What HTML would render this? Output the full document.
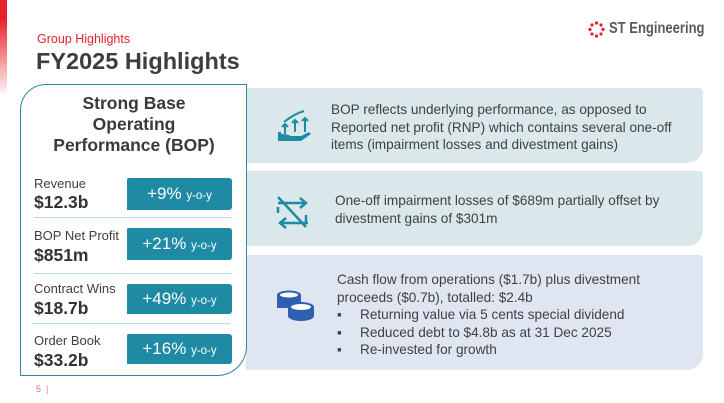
<!DOCTYPE html>
<html><head><meta charset="utf-8"><style>
*{margin:0;padding:0;box-sizing:border-box}
body{width:724px;height:403px;background:#fff;position:relative;overflow:hidden;font-family:"Liberation Sans",Arial,sans-serif;color:#404040}
.abs{position:absolute}
.panel{position:absolute;left:246px;width:457px;border-bottom-right-radius:16px;border-top-right-radius:4px}
.ptext{position:absolute;font-size:13.6px;line-height:17.5px;color:#404040}
.lbl{position:absolute;left:34px;font-size:13px;color:#404040}
.val{position:absolute;left:34px;font-size:17.5px;font-weight:bold;color:#333}
.badge{position:absolute;left:127px;width:105px;background:#1f8aa3;color:#fff;text-align:center;font-size:17px;border-radius:2px 3px 3px 0}
.badge small{font-size:11.5px}
.sep{position:absolute;left:34px;width:198px;height:1px;background:#b9dbe2}
</style></head><body>
<div class="abs" style="left:0;top:0;width:7px;height:93px;background:linear-gradient(#e8202a,#e8202a 20%,rgba(232,32,42,0.05))"></div>
<div class="abs" style="left:37px;top:32px;font-size:12.5px;color:#e8202a">Group Highlights</div>
<div class="abs" style="left:36px;top:48px;font-size:23.5px;font-weight:bold;color:#3d3d3d">FY2025 Highlights</div>
<div class="abs" style="left:588px;top:20px;display:flex;align-items:center">
<svg width="17" height="17" viewBox="0 0 17 17"><g fill="#e8202a"><circle cx="8.5" cy="2" r="1.6"/><circle cx="13" cy="4" r="1.6"/><circle cx="15" cy="8.5" r="1.6"/><circle cx="13" cy="13" r="1.6"/><circle cx="8.5" cy="15" r="1.6"/><circle cx="4" cy="13" r="1.6"/><circle cx="2" cy="8.5" r="1.6"/><circle cx="4" cy="4" r="1.6"/></g></svg>
<span style="margin-left:4px;font-size:15.5px;font-weight:bold;color:#5a5a5a;display:inline-block;transform:scaleX(0.84);transform-origin:left center">ST Engineering</span></div>

<div class="panel" style="top:88px;height:75px;background:#dae8ec"></div>
<div class="panel" style="top:171px;height:75px;background:#dae8ec"></div>
<div class="panel" style="top:255px;height:115px;background:#dfe6f2"></div>

<svg class="abs" style="left:276px;top:110px" width="36" height="32" viewBox="0 0 36 32"><g fill="none" stroke="#1f8aa3" stroke-width="2"><path d="M8 12 Q18 4 28 1"/><path d="M9 24V14M6 17l3-3 3 3M19 22V10M16 13l3-3 3 3M29 22V8M26 11l3-3 3 3"/></g><path d="M2 22h3v9H2zM5 24q6 0 10 2h10l8-4 2 2-10 7H5z" fill="#1f8aa3"/></svg>
<svg class="abs" style="left:276px;top:195px" width="34" height="36" viewBox="0 0 34 36"><g fill="none" stroke="#1f8aa3" stroke-width="2.5"><path d="M2 2L30 32M2 8h28M24 3l6 5-6 5M32 28H4M10 23l-6 5 6 5M2 12v6M30 20v8"/></g></svg>
<svg class="abs" style="left:276px;top:290px" width="40" height="34" viewBox="0 0 40 34"><g fill="#2e5fb0"><ellipse cx="13" cy="5" rx="12" ry="4.5"/><rect x="1" y="5" width="24" height="8"/><ellipse cx="13" cy="13" rx="12" ry="4.5"/><rect x="1" y="13" width="24" height="5"/><ellipse cx="25" cy="17" rx="13" ry="5"/><rect x="12" y="17" width="26" height="9"/><ellipse cx="25" cy="26" rx="13" ry="5"/></g><g fill="#fff"><ellipse cx="13" cy="5" rx="9" ry="2.5"/><ellipse cx="25" cy="17" rx="10" ry="3"/></g></svg>

<div class="ptext" style="left:331px;top:101px">BOP reflects underlying performance, as opposed to<br>Reported net profit (RNP) which contains several one-off<br>items (impairment losses and divestment gains)</div>
<div class="ptext" style="left:335px;top:192px">One-off impairment losses of $689m partially offset by<br>divestment gains of $301m</div>
<div class="ptext" style="left:337px;top:271px">Cash flow from operations ($1.7b) plus divestment<br>proceeds ($0.7b), totalled: $2.4b
<div><span style="display:inline-block;width:23px">▪</span>Returning value via 5 cents special dividend</div>
<div><span style="display:inline-block;width:23px">▪</span>Reduced debt to $4.8b as at 31 Dec 2025</div>
<div><span style="display:inline-block;width:23px">▪</span>Re-invested for growth</div></div>

<div class="abs" style="left:20px;top:84px;width:227px;height:292px;border:1.5px solid #2a8a9e;border-radius:26px 0 30px 0;background:#fff">
<div class="abs" style="left:0;top:8px;width:226px;text-align:center;font-size:17.5px;line-height:21px;font-weight:bold;color:#3a3a3a">Strong Base<br>Operating<br>Performance (BOP)</div>
<div class="lbl" style="top:91px;left:13px">Revenue</div>
<div class="val" style="top:107px;left:13px">$12.3b</div>
<div class="badge" style="top:93px;left:106px;height:32px;line-height:32px">+9% <small>y-o-y</small></div>
<div class="sep" style="top:132px;left:13px"></div>
<div class="lbl" style="top:143px;left:13px">BOP Net Profit</div>
<div class="val" style="top:160px;left:13px">$851m</div>
<div class="badge" style="top:143px;left:106px;height:32px;line-height:32px">+21% <small>y-o-y</small></div>
<div class="sep" style="top:188px;left:13px"></div>
<div class="lbl" style="top:196px;left:13px">Contract Wins</div>
<div class="val" style="top:213px;left:13px">$18.7b</div>
<div class="badge" style="top:199px;left:106px;height:30px;line-height:30px">+49% <small>y-o-y</small></div>
<div class="sep" style="top:238px;left:11px"></div>
<div class="lbl" style="top:248px;left:13px">Order Book</div>
<div class="val" style="top:265px;left:13px">$33.2b</div>
<div class="badge" style="top:249px;left:106px;height:30px;line-height:30px">+16% <small>y-o-y</small></div>
</div>
<div class="abs" style="left:36px;top:384px;font-size:9px;color:#e8707a">5 &nbsp;|</div>
</body></html>
